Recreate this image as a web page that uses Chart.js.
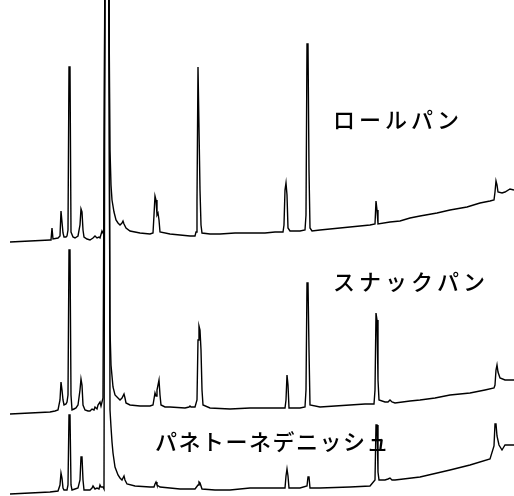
<!DOCTYPE html>
<html>
<head>
<meta charset="utf-8">
<script src="https://cdn.jsdelivr.net/npm/chart.js@4/dist/chart.umd.min.js"></script>
<style>
  body { margin: 0; background: #fff; }
  #wrap { width: 514px; height: 496px; position: relative; }
</style>
</head>
<body>
<div id="wrap"><canvas id="myChart"></canvas></div>
<script>
// retention time (min) and detector response (arbitrary units)
const rollTime = [1.0,3.0,5.0,5.1,5.2,5.3,5.8,6.0,6.1,6.3,6.4,6.6,6.7,6.8,6.9,7.0,7.1,7.3,7.5,7.8,8.0,8.1,8.2,8.3,8.4,8.7,9.0,9.3,9.5,9.7,9.9,10.0,10.2,10.3,10.4,10.5,10.85,11.0,11.1,11.2,11.4,11.6,11.8,12.0,12.2,12.3,12.4,12.6,13.0,14.0,15.0,15.3,15.4,15.5,15.6,15.7,15.8,15.9,16.0,17.0,18.0,19.0,19.5,19.6,19.7,19.8,19.9,20.0,20.1,20.2,21.0,22.0,23.5,25.0,26.5,27.5,28.3,28.4,28.5,28.6,28.7,28.8,29.0,30.0,30.5,30.6,30.7,30.8,30.9,31.0,31.2,32.0,33.0,34.0,35.0,36.0,37.0,37.5,37.6,37.7,37.8,39.0,40.0,41.0,42.0,43.7,45.0,46.7,48.0,49.0,49.4,49.5,49.6,49.7,49.8,50.2,50.5,51.0,51.4];
const rollSignal = [254,255,256,256,268,257,258,260,285,263,259,259,260,266,429,429,264,259,258,260,271,287,284,266,259,257,256,258,260,258,259,258,265,263,266,556,556,346,311,296,284,276,273,271,273,275,272,268,265,263,262,263,281,300,296,281,283,276,264,262,261,260,260,264,296,429,429,306,271,263,262,262,263,263,263,264,264,271,306,313,301,268,265,265,266,281,452,452,326,268,265,266,267,268,269,270,271,272,295,286,272,274,275,278,280,283,286,289,293,295,296,304,315,311,304,303,304,307,306];

const snackTime = [1.0,3.0,5.0,5.5,5.8,6.0,6.1,6.2,6.3,6.4,6.6,6.7,6.8,6.9,7.0,7.1,7.2,7.4,7.6,7.8,8.0,8.1,8.2,8.3,8.5,8.8,9.0,9.2,9.4,9.5,9.7,9.8,10.0,10.1,10.3,10.5,10.85,11.0,11.1,11.3,11.5,11.8,12.0,12.2,12.4,12.5,12.6,13.0,14.0,15.0,15.3,15.5,15.6,15.7,15.9,16.0,16.1,16.5,17.0,18.5,18.9,19.0,19.1,19.5,19.7,19.8,19.9,20.0,20.1,20.2,20.3,21.0,23.0,25.0,27.0,28.5,28.6,28.7,28.8,28.9,30.0,30.5,30.6,30.7,30.8,30.9,31.0,32.0,33.5,35.0,36.5,37.4,37.5,37.6,37.7,37.8,37.9,38.5,38.8,39.0,39.2,39.5,41.0,42.0,43.5,45.0,47.0,48.5,49.4,49.5,49.6,49.7,49.8,50.0,50.5,51.0,51.4];
const snackSignal = [82,83,84,85,86,96,114,106,96,91,92,94,101,246,246,101,86,87,88,91,106,117,111,91,86,85,85,87,86,89,87,91,94,90,98,556,556,166,131,109,101,98,96,98,102,98,93,91,90,90,91,103,100,106,116,101,91,89,89,88,89,90,89,89,96,156,170,166,146,106,91,88,87,88,88,88,96,121,111,88,88,89,106,213,213,146,91,89,90,91,92,92,106,183,176,116,96,94,94,96,94,93,95,96,98,101,103,106,108,111,126,131,124,118,116,116,116];

const panettoneTime = [1.0,3.0,5.0,5.8,6.0,6.1,6.2,6.3,6.4,6.7,6.8,6.9,7.0,7.1,7.2,7.5,7.8,8.0,8.1,8.2,8.3,8.4,8.8,9.0,9.2,9.3,9.5,9.7,9.9,10.0,10.1,10.3,10.4,10.5,10.9,11.0,11.1,11.2,11.3,11.5,11.8,12.0,12.2,12.3,12.4,12.5,12.7,13.5,15.0,15.4,15.5,15.6,15.7,16.0,17.0,18.0,19.5,19.8,19.9,20.0,20.2,21.5,23.0,25.0,27.0,28.5,28.6,28.7,28.8,28.9,30.0,30.7,30.8,30.9,31.0,32.0,35.0,37.0,37.5,37.6,37.7,37.8,37.9,38.5,38.8,39.0,39.2,39.5,42.0,45.0,47.0,49.0,49.4,49.5,49.6,49.7,49.9,50.2,50.5,51.0,51.4];
const panettoneSignal = [2,3,4,5,11,23,18,8,6,6,11,81,81,11,6,7,8,16,39,39,16,6,6,6,8,10,7,8,7,11,9,9,7,556,556,86,69,54,43,29,21,18,16,18,20,16,12,10,9,9,12,14,11,9,8,7,7,11,14,13,7,6,6,8,8,8,20,27,20,8,8,10,19,19,8,8,9,10,16,71,71,24,16,16,17,18,16,16,19,26,31,37,50,72,72,60,51,46,51,51,51];

const sampleNames = ['ロールパン', 'スナックパン', 'パネトーネデニッシュ'];
const labelTime = [33.3, 33.3, 15.5];
const labelSignal = [376, 214, 54];

const sampleLabels = {
  id: 'sampleLabels',
  afterDatasetsDraw(chart) {
    const ctx = chart.ctx;
    const x = chart.scales.x, y = chart.scales.y;
    ctx.save();
    ctx.fillStyle = '#000';
    ctx.textBaseline = 'middle';
    ctx.font = '500 22px "Noto Sans CJK JP"';
    sampleNames.forEach(function (name, i) {
      ctx.letterSpacing = i < 2 ? '4px' : '1.5px';
      ctx.fillText(name, x.getPixelForValue(labelTime[i]), y.getPixelForValue(labelSignal[i]));
    });
    ctx.restore();
  }
};

function trace(label, times, values) {
  return {
    label: label,
    data: times.map(function (t, i) { return { x: t, y: values[i] }; }),
    borderColor: '#000',
    borderWidth: 1.4,
    pointRadius: 0,
    tension: 0,
    fill: false
  };
}

const ctx = document.getElementById('myChart').getContext('2d');
const myChart = new Chart(ctx, {
  type: 'line',
  data: {
    datasets: [
      trace(sampleNames[0], rollTime, rollSignal),
      trace(sampleNames[1], snackTime, snackSignal),
      trace(sampleNames[2], panettoneTime, panettoneSignal)
    ]
  },
  options: {
    responsive: true,
    maintainAspectRatio: false,
    animation: false,
    layout: { padding: 0 },
    plugins: { legend: { display: false }, tooltip: { enabled: false } },
    scales: {
      x: { type: 'linear', min: 0, max: 51.4, display: false },
      y: { min: 0, max: 496, display: false }
    }
  },
  plugins: [sampleLabels]
});
</script>
</body>
</html>
